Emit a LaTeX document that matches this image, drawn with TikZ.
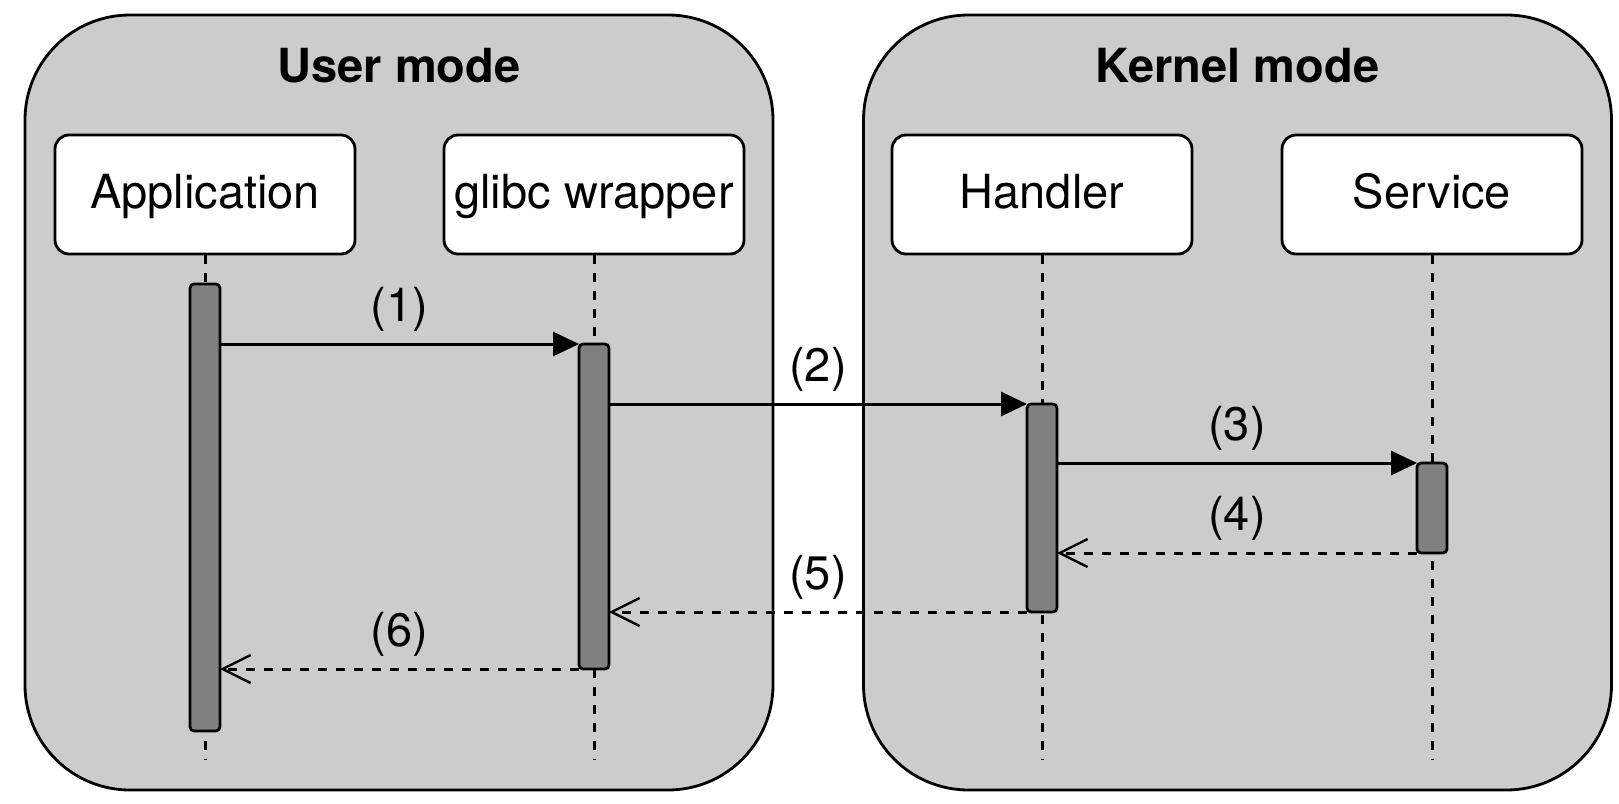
\documentclass[tikz,border=0pt]{standalone}
\usepackage{fontspec}
\setmainfont{TeX Gyre Heros}
\usetikzlibrary{arrows.meta}
\definecolor{panelgray}{HTML}{CCCCCC}
\definecolor{bargray}{HTML}{808080}
\begin{document}
\begin{tikzpicture}[x=1pt,y=-1pt,
  panelbox/.style={draw=black, fill=panelgray, line width=2.8pt, rounded corners=105pt,
    minimum width=748pt, minimum height=775pt, inner sep=0pt},
  paneltitle/.style={font=\fontsize{47}{56}\selectfont\bfseries, inner sep=0pt},
  actorbox/.style={draw=black, fill=white, line width=2.8pt, rounded corners=14pt,
    minimum width=300pt, minimum height=119pt, inner sep=0pt,
    text height=35pt, text depth=8pt, font=\fontsize{47}{56}\selectfont},
  lifeline/.style={draw=black, line width=3pt, dash pattern=on 9pt off 9pt},
  actbar/.style={draw=black, fill=bargray, line width=2.8pt, rounded corners=4pt,
    minimum width=30pt, inner sep=0pt, outer sep=0pt},
  callarrow/.style={draw=black, line width=3pt, -{Triangle[length=26pt,width=24pt]}},
  returnarrow/.style={draw=black, line width=3pt, dash pattern=on 9pt off 9pt,
    -{Straight Barb[length=28pt,width=28pt,line width=2.4pt]}},
  msglabel/.style={font=\fontsize{47}{56}\selectfont, inner sep=0pt, yshift=35pt}
]
\useasboundingbox (0,0) rectangle (1619,803);
\fill[white] (0,0) rectangle (1619,803);

% panels
\node[panelbox] (userpanel) at (399,402.5) {};
\node[panelbox] (kernelpanel) at (1237.5,402.5) {};
\node[paneltitle] (usertitle) at (399,66) {User mode};
\node[paneltitle] (kerneltitle) at (1237.5,66) {Kernel mode};

% actors
\node[actorbox] (app) at (205,194.5) {Application};
\node[actorbox] (glibc) at (594,194.5) {glibc wrapper};
\node[actorbox] (handler) at (1042,194.5) {Handler};
\node[actorbox] (service) at (1432,194.5) {Service};

% lifelines
\coordinate (lifeend) at (0,760);
\draw[lifeline] (app.south) -- (app.south |- lifeend);
\draw[lifeline] (glibc.south) -- (glibc.south |- lifeend);
\draw[lifeline] (handler.south) -- (handler.south |- lifeend);
\draw[lifeline] (service.south) -- (service.south |- lifeend);

% activation bars
\node[actbar, minimum height=447pt] (appbar) at (205,507.5) {};
\node[actbar, minimum height=325pt] (glibcbar) at (594,506.5) {};
\node[actbar, minimum height=208pt] (handlerbar) at (1042,508) {};
\node[actbar, minimum height=90pt] (servicebar) at (1432,508) {};

% messages
\draw[callarrow] (appbar.east |- glibcbar.north west) -- node[msglabel]{(1)} (glibcbar.north west);
\draw[callarrow] (glibcbar.east |- handlerbar.north west) -- node[msglabel]{(2)} (handlerbar.north west);
\draw[callarrow] (handlerbar.east |- servicebar.north west) -- node[msglabel]{(3)} (servicebar.north west);
\draw[returnarrow] (servicebar.south west) -- node[msglabel]{(4)} (handlerbar.east |- servicebar.south west);
\draw[returnarrow] (handlerbar.south west) -- node[msglabel]{(5)} (glibcbar.east |- handlerbar.south west);
\draw[returnarrow] (glibcbar.south west) -- node[msglabel]{(6)} (appbar.east |- glibcbar.south west);
\end{tikzpicture}
\end{document}
